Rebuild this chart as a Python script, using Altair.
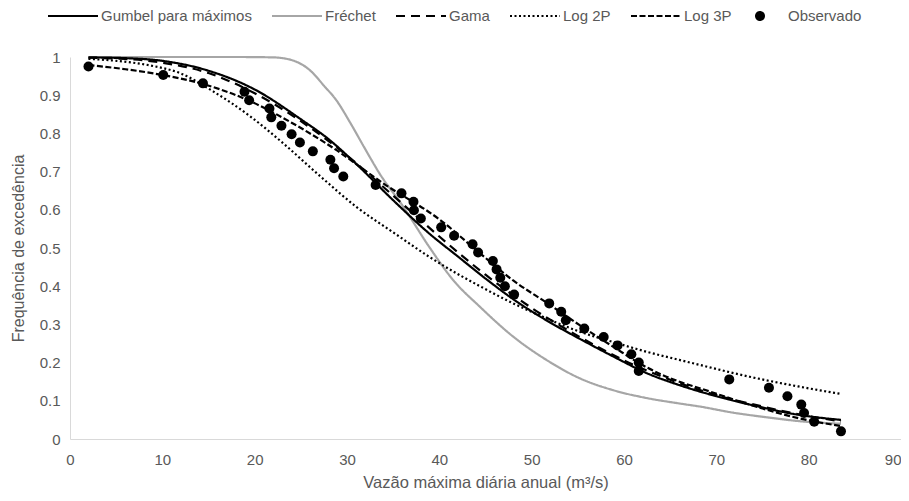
import altair as alt
import pandas as pd

# ---------------- data ----------------
series_names = ["Gumbel para máximos", "Fréchet", "Gama", "Log 2P", "Log 3P", "Observado"]
series_colors = ["#000000", "#a6a6a6", "#000000", "#000000", "#000000", "#000000"]
line_names = ["Gumbel para máximos", "Fréchet", "Gama", "Log 2P", "Log 3P"]
line_dashes = [[1, 0], [1, 0], [9, 6], [2, 2.5], [6, 2.5]]

gumbel_x = [2, 6, 10, 15, 20, 25, 28, 31, 35, 39, 42, 45, 48, 52, 55, 59, 62.5, 66, 70, 74, 79, 83.5]
gumbel_y = [0.999, 0.997, 0.99, 0.964, 0.915, 0.837, 0.785, 0.72, 0.625, 0.536, 0.478, 0.42, 0.366, 0.305,
            0.265, 0.214, 0.172, 0.141, 0.112, 0.088, 0.063, 0.05]

frechet_x = [2, 10, 18, 22, 24, 26, 27.5, 28.9, 30.3, 31.9, 33.5, 36.1, 38.9, 41.5, 44.4, 48, 51.6, 55.2,
             58.8, 62.5, 66, 68.2, 71.8, 75.4, 79.3, 83.5]
frechet_y = [1.0, 1.0, 1.0, 0.999, 0.992, 0.965, 0.925, 0.885, 0.83, 0.762, 0.696, 0.608, 0.503, 0.416,
             0.346, 0.268, 0.207, 0.159, 0.128, 0.107, 0.093, 0.085, 0.069, 0.057, 0.046, 0.04]

gama_x = [2, 6, 10, 15, 20, 25, 30, 35, 40, 45, 50, 55, 60, 65, 70, 75, 80, 83.5]
gama_y = [0.998, 0.995, 0.985, 0.958, 0.905, 0.832, 0.742, 0.637, 0.53, 0.43, 0.343, 0.27, 0.206, 0.155,
          0.115, 0.085, 0.06, 0.046]

log2p_x = [2, 5, 8.65, 12, 15.5, 19.5, 23, 27, 31, 35.3, 38.9, 42.5, 44.4, 48, 51.6, 55.2, 58.8, 62.5, 66,
           68.2, 73.6, 79, 83.5]
log2p_y = [0.995, 0.99, 0.978, 0.957, 0.91, 0.845, 0.776, 0.69, 0.608, 0.536, 0.477, 0.425, 0.4, 0.355,
           0.316, 0.281, 0.254, 0.228, 0.207, 0.194, 0.163, 0.137, 0.118]

log3p_x = [2, 6, 10, 14, 19, 24, 28.5, 34, 40, 44.7, 48, 51.8, 55.2, 58.8, 62.5, 66, 68.2, 73.6, 79, 83.5]
log3p_y = [0.979, 0.968, 0.953, 0.932, 0.89, 0.828, 0.762, 0.668, 0.575, 0.48, 0.415, 0.354, 0.298, 0.242,
           0.187, 0.15, 0.133, 0.09, 0.054, 0.034]

obs_x = [2.0, 10.1, 14.4, 18.9, 19.4, 21.6, 21.8, 22.9, 24.0, 24.9, 26.3, 28.2, 28.6, 29.6, 33.1, 35.9,
         37.2, 37.25, 38.0, 40.2, 41.6, 43.6, 44.2, 45.8, 46.2, 46.6, 47.1, 48.1, 51.9, 53.2, 53.7, 55.7,
         57.8, 59.3, 60.8, 61.6, 61.6, 71.4, 75.7, 77.7, 79.2, 79.5, 80.6, 83.5]
obs_y = [0.975, 0.953, 0.931, 0.909, 0.887, 0.865, 0.842, 0.82, 0.798, 0.776, 0.753, 0.731, 0.709, 0.687,
         0.665, 0.643, 0.621, 0.599, 0.577, 0.554, 0.532, 0.51, 0.488, 0.466, 0.444, 0.422, 0.4, 0.378,
         0.355, 0.333, 0.311, 0.289, 0.267, 0.245, 0.222, 0.2, 0.178, 0.156, 0.134, 0.112, 0.09, 0.068,
         0.045, 0.02]

x_ticks = [0, 10, 20, 30, 40, 50, 60, 70, 80, 90]
y_ticks = [0, 0.1, 0.2, 0.3, 0.4, 0.5, 0.6, 0.7, 0.8, 0.9, 1]

x_title = "Vazão máxima diária anual (m³/s)"
y_title = "Frequência de excedência"

# ---------------- tables ----------------
rows = []
for name, xs, ys in [
    ("Fréchet", frechet_x, frechet_y),
    ("Gumbel para máximos", gumbel_x, gumbel_y),
    ("Gama", gama_x, gama_y),
    ("Log 2P", log2p_x, log2p_y),
    ("Log 3P", log3p_x, log3p_y),
]:
    for xv, yv in zip(xs, ys):
        rows.append({"serie": name, "x": xv, "y": yv})
lines_df = pd.DataFrame(rows)
obs_df = pd.DataFrame({"x": obs_x, "y": obs_y, "serie": "Observado"})

FONT = "Liberation Sans"
TEXT = "#595959"

dash_expr = (
    "datum.value === 'Gama' ? [9,6] : datum.value === 'Log 2P' ? [2,2.5] : "
    "datum.value === 'Log 3P' ? [6,2.5] : [1,0]"
)

legend = alt.Legend(
    title=None,
    orient="none",
    legendX=-23,
    legendY=-67,
    direction="horizontal",
    symbolType=alt.ExprRef(expr="datum.value === 'Observado' ? 'circle' : 'stroke'"),
    symbolSize=alt.ExprRef(expr="datum.value === 'Observado' ? 64 : 2500"),
    symbolDash=alt.ExprRef(expr=dash_expr),
    symbolFillColor=alt.ExprRef(expr="datum.value === 'Observado' ? '#000000' : 'transparent'"),
    symbolOffset=alt.ExprRef(expr="datum.value === 'Observado' ? -14 : 0"),
    symbolStrokeWidth=2,
    labelFont=FONT,
    labelFontSize=15,
    labelColor=TEXT,
    labelOffset=2,
    labelLimit=300,
    columnPadding=16,
    padding=0,
)

x_axis = alt.Axis(
    values=x_ticks, grid=False, ticks=False, tickSize=0, domainColor="#d9d9d9",
    labelFont=FONT, labelFontSize=15, labelColor=TEXT, labelPadding=13,
    labelOverlap=False, labelFlush=False,
    labelAlign={"condition": {"test": "datum.value === 90", "value": "right"}, "value": "center"},
    title=x_title, titleFont=FONT, titleFontSize=16.5, titleColor=TEXT,
    titleFontWeight="normal", titlePadding=7,
)
y_axis = alt.Axis(
    values=y_ticks, format="~g", grid=False, ticks=False, tickSize=0, domainColor="#d9d9d9",
    labelFont=FONT, labelFontSize=15, labelColor=TEXT, labelPadding=10,
    labelOverlap=False, labelFlush=False, labelBaseline="middle",
    title=y_title, titleFont=FONT, titleFontSize=16, titleColor=TEXT,
    titleFontWeight="normal", titlePadding=13,
)
x_scale = alt.Scale(domain=[0, 90], nice=False, zero=False)
y_scale = alt.Scale(domain=[0, 1], nice=False, zero=False)

lines = alt.Chart(lines_df).mark_line(strokeWidth=2.2, interpolate="monotone").encode(
    x=alt.X("x:Q", scale=x_scale, axis=x_axis),
    y=alt.Y("y:Q", scale=y_scale, axis=y_axis),
    color=alt.Color("serie:N", scale=alt.Scale(domain=series_names, range=series_colors), legend=legend),
    strokeDash=alt.StrokeDash("serie:N", scale=alt.Scale(domain=line_names, range=line_dashes), legend=None),
)

points = alt.Chart(obs_df).mark_circle(size=100, opacity=1, color="#000000").encode(
    x=alt.X("x:Q", scale=x_scale, axis=x_axis),
    y=alt.Y("y:Q", scale=y_scale, axis=y_axis),
)

chart = alt.layer(lines, points).properties(
    width=831,
    height=382,
    autosize=alt.AutoSizeParams(type="none"),
    padding={"left": 62, "top": 49, "right": 0, "bottom": 54},
).configure_view(stroke=None)

chart.save("out.html", embed_options={"renderer": "svg", "actions": False})
